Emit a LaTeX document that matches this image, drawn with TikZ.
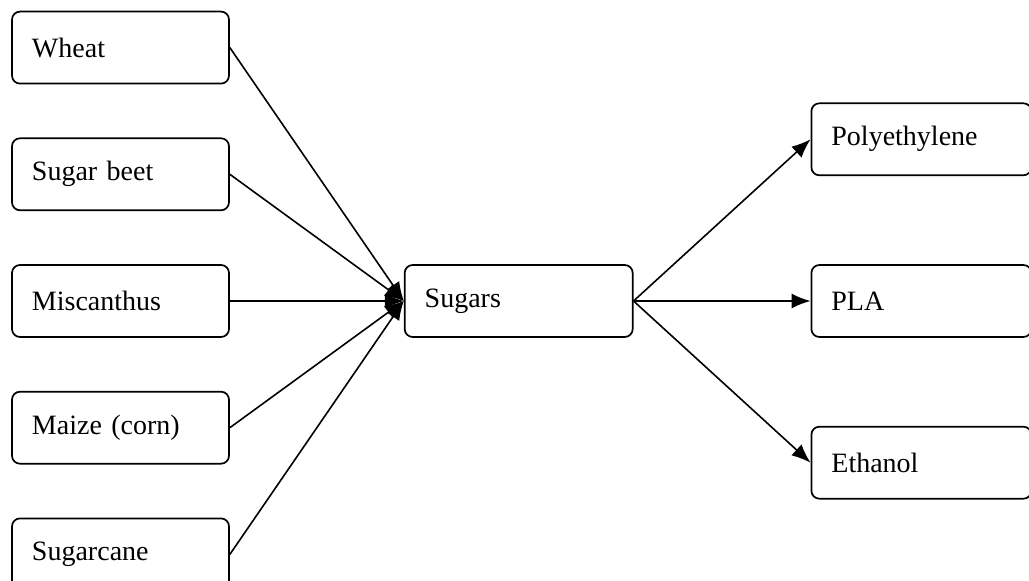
\documentclass[tikz,border=0pt]{standalone}
\usepackage{fontspec}
\setmainfont{Liberation Serif}
\usetikzlibrary{arrows.meta, positioning}
\tikzstyle{source} = [rectangle, rounded corners=8pt, minimum width=217pt, minimum height=72pt, text width=177pt, inner xsep=20pt, align=left, draw=black, line width=1.7pt, font=\fontsize{28}{33}\selectfont]
\tikzstyle{hub} = [source, minimum width=228pt, text width=188pt]
\tikzstyle{product} = [source, minimum width=220pt, text width=180pt]
\tikzstyle{arrow} = [line width=1.6pt,->,>={Latex[length=19pt,width=15pt]}]

\begin{document}
\begin{tikzpicture}[node distance=53pt]
 \useasboundingbox (-120.5pt,301pt) rectangle (908.5pt,-280pt);
 \clip (-120.5pt,301pt) rectangle (908.5pt,-280pt);

 \node (miscanthus) [source] {Miscanthus};
 \node (sugarbeet) [source, above=of miscanthus] {Sugar beet};
 \node (wheat) [source, above=of sugarbeet] {Wheat};
 \node (maize) [source, below=of miscanthus] {Maize (corn)};
 \node (sugarcane) [source, below=of maize] {Sugarcane};

 \node (sugars) [hub, right=174pt of miscanthus] {Sugars};

 \node (pla) [product, right=177pt of sugars] {PLA};
 \node (polyethylene) [product, above=88pt of pla] {Polyethylene};
 \node (ethanol) [product, below=88pt of pla] {Ethanol};

 \draw [arrow] (wheat.east) -- (sugars.west);
 \draw [arrow] (sugarbeet.east) -- (sugars.west);
 \draw [arrow] (miscanthus.east) -- (sugars.west);
 \draw [arrow] (maize.east) -- (sugars.west);
 \draw [arrow] (sugarcane.east) -- (sugars.west);
 \draw [arrow] (sugars.east) -- (polyethylene.west);
 \draw [arrow] (sugars.east) -- (pla.west);
 \draw [arrow] (sugars.east) -- (ethanol.west);
\end{tikzpicture}
\end{document}
